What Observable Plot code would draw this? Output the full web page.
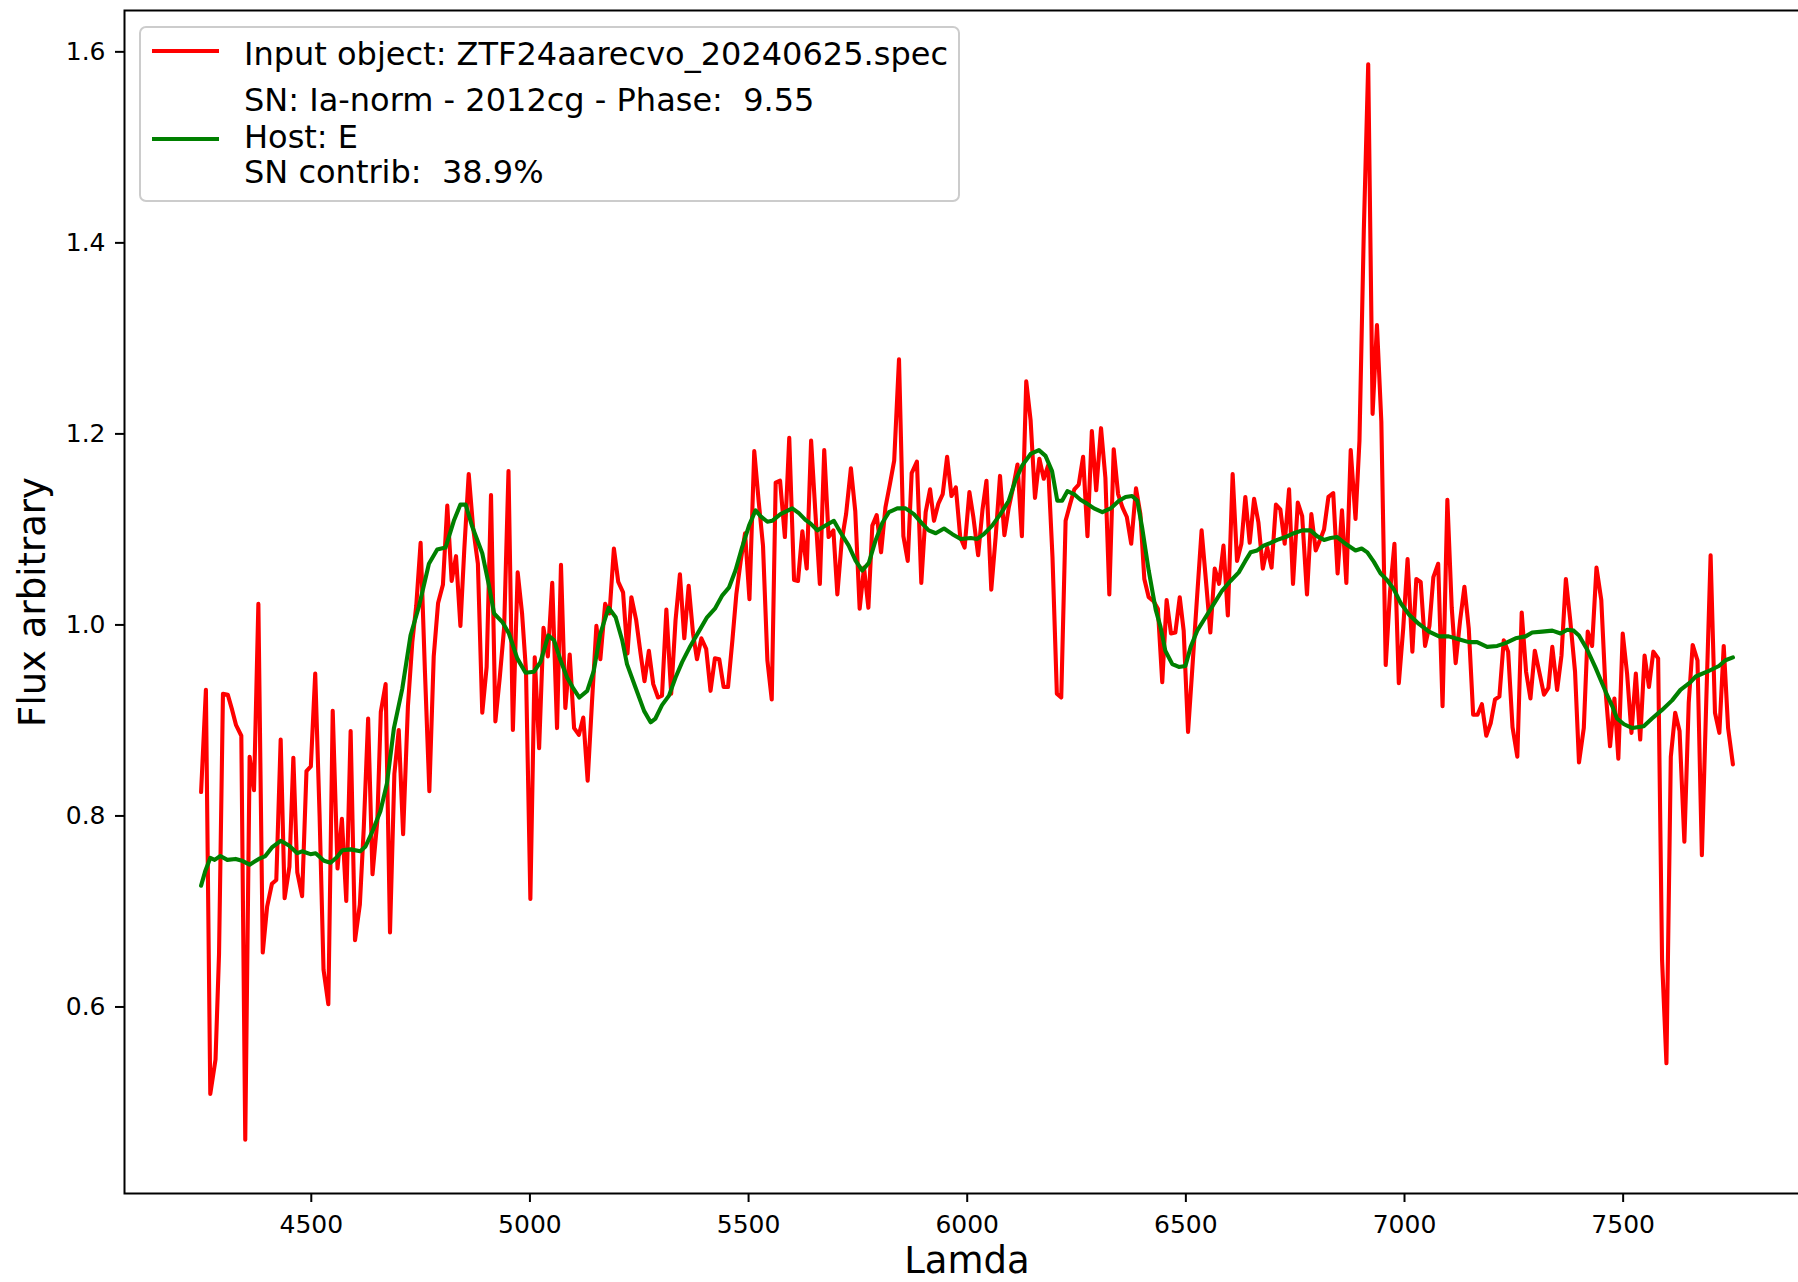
<!DOCTYPE html>
<html><head><meta charset="utf-8">
<script src="https://cdn.jsdelivr.net/npm/d3@7"></script>
<script src="https://cdn.jsdelivr.net/npm/@observablehq/plot@0.6"></script>
<style>
body{margin:0;background:#fff;}
#chart{position:relative;width:1798px;height:1282px;overflow:hidden;}
</style></head><body><div id="chart"></div>
<script>
// Input spectrum (red)
const inputLambda = [4248,4259,4269,4281,4289,4298,4309,4319,4328,4340,4349,4359,4369,4379,4389,4399,4410,4420,4430,4439,4450,4459,4468,4479,4489,4499,4509,4519,4528,4539,4549,4560,4570,4580,4590,4600,4611,4620,4630,4640,4651,4659,4670,4680,4690,
4700,4710,4721,4731,4740,4750,4760,4770,4780,4790,4801,4811,4821,4831,4841,4850,4860,4870,4881,4891,4901,4911,4921,4931,4941,4951,4961,4972,4982,4991,5001,5011,5021,5031,5041,5051,5062,5071,5081,5091,5101,5112,5122,
5132,5142,5152,5161,5172,5182,5192,5202,5213,5223,5232,5243,5253,5262,5272,5282,5293,5302,5312,5323,5333,5343,5353,5363,5373,5382,5392,5403,5413,5423,5433,5443,5453,5463,5472,5482,5492,5502,5513,5523,5533,5543,5553,5562,
5572,5583,5593,5604,5613,5623,5633,5643,5653,5663,5673,5683,5694,5703,5713,5723,5734,5744,5754,5764,5774,5783,5793,5803,5813,5823,5833,5844,5854,5864,5873,5885,5895,5905,5915,5924,5934,5944,5954,5964,5974,5984,5994,
6005,6014,6025,6035,6044,6055,6065,6075,6085,6095,6105,6115,6125,6135,6145,6155,6165,6175,6185,6195,6205,6215,6225,6235,6245,6255,6265,6275,6285,6295,6306,6316,6325,6335,6345,6355,6365,6375,6386,6396,6405,6415,
6426,6436,6446,6456,6466,6476,6486,6495,6505,6515,6525,6536,6546,6556,6566,6576,6586,6596,6607,6617,6627,6636,6646,6656,6666,6676,6686,6696,6706,6716,6726,6736,6745,6756,6766,6777,6787,6797,6806,6816,6826,6837,6847,6857,
6867,6877,6888,6897,6907,6917,6927,6937,6947,6957,6967,6977,6987,6997,7007,7018,7027,7037,7047,7057,7066,7077,7087,7098,7108,7117,7127,7137,7147,7157,7167,7177,7187,7197,7207,7217,7227,7237,7247,7258,7268,7278,7288,7298,
7309,7319,7329,7338,7349,7359,7369,7379,7390,7399,7410,7419,7429,7439,7450,7460,7470,7480,7489,7499,7509,7519,7529,7539,7549,7559,7569,7580,7589,7599,7609,7619,7629,7640,7650,7659,7670,7680,7690,7700,7710,7720,7730,7740,7751];
const inputFlux = [0.825,0.932,0.509,0.545,0.655,0.928,0.927,0.911,0.895,0.884,0.461,0.862,0.827,1.022,0.657,0.705,0.729,0.733,0.880,0.714,0.747,0.861,0.741,0.716,0.847,0.852,0.949,0.800,0.639,0.603,0.910,0.745,0.797,0.711,0.889,0.670,0.707,0.787,0.902,0.739,0.795,0.909,0.938,0.678,0.844,
0.890,0.781,0.915,0.982,1.020,1.086,0.950,0.826,0.967,1.023,1.042,1.125,1.046,1.072,0.999,1.080,1.158,1.102,1.064,0.908,0.956,1.136,0.899,0.945,0.997,1.161,0.890,1.055,1.012,0.952,0.713,0.966,0.871,0.997,0.967,1.044,0.892,1.063,0.913,0.969,0.892,0.885,0.903,
0.837,0.920,0.999,0.964,1.022,1.012,1.080,1.045,1.034,0.970,1.029,1.005,0.970,0.941,0.973,0.938,0.924,0.926,1.016,0.928,1.005,1.053,0.986,1.041,0.991,0.964,0.986,0.975,0.931,0.965,0.964,0.935,0.935,0.984,1.032,1.067,1.096,1.027,1.182,1.130,1.083,0.963,0.922,1.149,
1.151,1.092,1.196,1.047,1.046,1.098,1.059,1.193,1.116,1.043,1.183,1.092,1.099,1.032,1.088,1.116,1.164,1.119,1.017,1.060,1.018,1.104,1.115,1.076,1.123,1.147,1.172,1.278,1.093,1.067,1.159,1.171,1.044,1.118,1.142,1.109,1.127,1.137,1.176,1.135,1.144,1.092,1.081,
1.139,1.113,1.073,1.121,1.151,1.037,1.092,1.156,1.094,1.123,1.144,1.168,1.093,1.255,1.214,1.133,1.174,1.153,1.167,1.071,0.928,0.924,1.109,1.126,1.142,1.147,1.176,1.093,1.203,1.141,1.206,1.154,1.032,1.184,1.137,1.123,1.113,1.085,1.143,1.116,1.048,1.029,
1.025,1.017,0.940,1.026,0.991,0.992,1.029,0.994,0.888,0.956,1.025,1.099,1.046,0.992,1.059,1.043,1.083,1.010,1.158,1.067,1.085,1.134,1.086,1.132,1.107,1.059,1.081,1.060,1.126,1.121,1.085,1.142,1.043,1.128,1.114,1.032,1.116,1.078,1.088,1.100,1.134,1.138,1.054,1.120,
1.044,1.183,1.111,1.193,1.414,1.587,1.221,1.314,1.213,0.958,1.035,1.085,0.939,0.996,1.069,0.972,1.048,1.045,0.978,0.999,1.050,1.064,0.915,1.131,1.018,0.960,1.004,1.040,0.996,0.906,0.906,0.917,0.884,0.897,0.922,0.925,0.984,0.972,0.893,0.862,1.013,0.951,0.923,0.973,
0.949,0.927,0.934,0.977,0.932,0.968,1.048,1.005,0.951,0.856,0.892,0.993,0.978,1.060,1.026,0.930,0.873,0.923,0.860,0.991,0.949,0.887,0.949,0.880,0.968,0.935,0.972,0.965,0.649,0.541,0.862,0.908,0.889,0.773,0.919,0.979,0.963,0.759,0.919,1.073,0.908,0.887,0.978,0.892,0.854];

// Host template fit (green)
const hostLambda = [4248,4258,4269,4279,4292,4308,4327,4342,4359,4380,4395,4410,4430,4449,4468,4479,4498,4510,4529,4544,4559,4571,4590,4612,4624,4639,4658,4673,4689,4708,4727,4746,4769,4788,4807,4826,4841,4853,4868,4891,4906,4918,4937,4952,4971,4990,5009,5024,5042,5055,5070,5085,5100,5113,5131,5146,5161,5180,5196,5211,5222,5241,5261,5276,5287,5302,5318,5333,5348,5367,5386,5405,5423,5440,5455,5470,5485,5501,5516,5527,5543,5554,5573,5600,5615,5630,5642,5657,5676,5695,5710,5729,5745,5760,5775,5790,5806,5821,5840,5859,5878,5897,5912,5928,5947,5966,5985,6008,6023,6038,6057,6076,6095,6110,6126,6145,6164,6179,6194,6206,6217,6229,6244,6259,6274,6290,6309,6328,6347,6362,6377,6389,6400,6415,6431,6442,6453,6469,6484,6499,6511,6526,6545,6564,6583,6602,6621,6636,6648,6663,6678,6694,6709,6728,6747,6766,6785,6800,6816,6831,6846,6865,6888,6902,6915,6930,6945,6960,6976,6991,7010,7033,7056,7079,7101,7124,7147,7166,7189,7212,7231,7254,7277,7292,7315,7338,7357,7372,7387,7399,7418,7437,7460,7475,7486,7502,7521,7547,7566,7589,7612,7631,7654,7666,7692,7719,7734,7751];
const hostFlux = [0.727,0.743,0.756,0.754,0.758,0.754,0.755,0.753,0.749,0.755,0.758,0.767,0.774,0.769,0.761,0.763,0.760,0.761,0.753,0.751,0.757,0.764,0.765,0.763,0.768,0.783,0.805,0.834,0.892,0.933,0.989,1.019,1.064,1.079,1.081,1.109,1.126,1.126,1.103,1.075,1.042,1.012,1.003,0.991,0.965,0.950,0.951,0.961,0.989,0.984,0.963,0.945,0.933,0.924,0.931,0.952,0.991,1.018,1.008,0.984,0.959,0.935,0.910,0.898,0.902,0.916,0.926,0.945,0.961,0.978,0.993,1.008,1.017,1.031,1.039,1.057,1.081,1.104,1.120,1.114,1.108,1.109,1.116,1.122,1.117,1.110,1.106,1.099,1.104,1.109,1.097,1.083,1.067,1.057,1.065,1.088,1.107,1.118,1.122,1.122,1.116,1.106,1.099,1.096,1.101,1.095,1.090,1.091,1.090,1.095,1.104,1.116,1.130,1.151,1.167,1.179,1.183,1.177,1.161,1.130,1.130,1.140,1.137,1.131,1.127,1.122,1.118,1.122,1.130,1.134,1.135,1.130,1.102,1.057,1.016,0.998,0.973,0.959,0.956,0.957,0.977,0.994,1.008,1.022,1.036,1.046,1.055,1.067,1.076,1.078,1.083,1.086,1.089,1.092,1.096,1.099,1.099,1.093,1.089,1.091,1.092,1.085,1.078,1.080,1.076,1.066,1.054,1.047,1.037,1.023,1.011,1.001,0.993,0.988,0.988,0.985,0.982,0.982,0.977,0.978,0.981,0.986,0.988,0.992,0.993,0.994,0.991,0.995,0.994,0.989,0.974,0.955,0.930,0.915,0.902,0.896,0.892,0.894,0.902,0.911,0.921,0.932,0.940,0.946,0.951,0.957,0.963,0.966];

const xTicks = [4500,5000,5500,6000,6500,7000,7500];
const yTicks = [0.6,0.8,1.0,1.2,1.4,1.6];
const xLabel = "Lamda";
const yLabel = "Flux arbitrary";
const inputLabel = "Input object: ZTF24aarecvo_20240625.spec";
const hostLabelLines = ["SN: Ia-norm - 2012cg - Phase:  9.55", "Host: E", "SN contrib:  38.9%"];

const inputData = inputLambda.map((x, i) => ({x, y: inputFlux[i]}));
const hostData = hostLambda.map((x, i) => ({x, y: hostFlux[i]}));

function padded(values) {
  const [a, b] = d3.extent(values);
  const m = (b - a) * 0.05;
  return [a - m, b + m];
}
const xDomain = padded(inputLambda.concat(hostLambda));
const yDomain = padded(inputFlux.concat(hostFlux));

const FONT = "DejaVu Sans";
const LW = 4.1;
const plot = Plot.plot({
  width: 1798, height: 1282,
  marginLeft: 124, marginRight: -11, marginTop: 10, marginBottom: 89,
  style: {fontFamily: FONT, background: "white", overflow: "hidden", color: "black"},
  x: {domain: xDomain},
  y: {domain: yDomain},
  marks: [
    Plot.line(inputData, {x: "x", y: "y", stroke: "red", strokeWidth: LW, strokeLinejoin: "round"}),
    Plot.line(hostData, {x: "x", y: "y", stroke: "green", strokeWidth: LW, strokeLinejoin: "round"}),
    Plot.frame({stroke: "black", strokeWidth: 2}),
    Plot.axisX({ticks: xTicks, tickFormat: "d", tickSize: 9, tickPadding: 13, fontSize: 25, strokeWidth: 2, label: null}),
    Plot.axisY({ticks: yTicks, tickFormat: ".1f", tickSize: 9, tickPadding: 10, fontSize: 25, strokeWidth: 2, label: null}),
    Plot.text([xLabel], {text: d => d, frameAnchor: "bottom", dy: 68, fontSize: 37, lineAnchor: "middle", textAnchor: "middle"}),
    Plot.text([yLabel], {text: d => d, frameAnchor: "left", rotate: -90, dx: -91, fontSize: 37, lineAnchor: "middle", textAnchor: "middle"})
  ]
});
document.getElementById("chart").appendChild(plot);

// Legend (inside the axes, upper left)
const svg = d3.select(plot);
const lg = svg.append("g").attr("class", "legend").attr("text-anchor", "start");
lg.append("rect").attr("x", 140).attr("y", 27).attr("width", 819).attr("height", 174)
  .attr("rx", 6).attr("fill", "white").attr("fill-opacity", 0.8)
  .attr("stroke", "#cccccc").attr("stroke-width", 2);
lg.append("line").attr("x1", 152).attr("x2", 219).attr("y1", 51).attr("y2", 51)
  .attr("stroke", "red").attr("stroke-width", LW);
lg.append("line").attr("x1", 152).attr("x2", 219).attr("y1", 139).attr("y2", 139)
  .attr("stroke", "green").attr("stroke-width", LW);
const textStyle = t => t.attr("font-family", FONT).attr("font-size", 32).attr("fill", "black")
  .attr("text-anchor", "start").style("white-space", "pre");
lg.append("text").attr("x", 244).attr("y", 65).text(inputLabel).call(textStyle);
const baselines = [111, 147.5, 182.5];
hostLabelLines.forEach((s, i) => {
  lg.append("text").attr("x", 244).attr("y", baselines[i]).text(s).call(textStyle);
});
</script>
</body></html>
